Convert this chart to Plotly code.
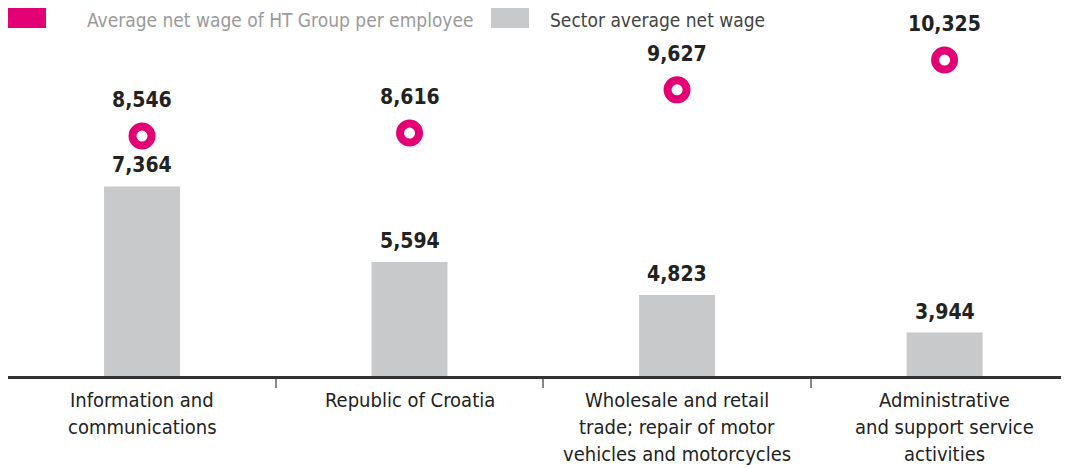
import plotly.graph_objects as go

categories = [
    "Information and<br>communications",
    "Republic of Croatia",
    "Wholesale and retail<br>trade; repair of motor<br>vehicles and motorcycles",
    "Administrative<br>and support service<br>activities",
]
sector_wage = [7364, 5594, 4823, 3944]
ht_wage = [8546, 8616, 9627, 10325]
legend_labels = ["Average net wage of HT Group per employee", "Sector average net wage"]

PINK = "#E20074"
GREY = "#C8C9CB"
FONT = "Liberation Sans Narrow, DejaVu Sans Condensed, Arial Narrow, sans-serif"
W, PLOT_H = 1069, 368

xpos = list(range(len(categories)))

fig = go.Figure()

fig.add_trace(go.Bar(
    x=xpos, y=sector_wage,
    marker=dict(color=GREY, line=dict(width=0)),
    width=0.284, name=legend_labels[1], showlegend=False,
))

fig.add_trace(go.Scatter(
    x=xpos, y=ht_wage, mode="markers",
    marker=dict(symbol="circle", size=19, color="white", line=dict(color=PINK, width=8)),
    name=legend_labels[0], showlegend=False,
))

# value labels
for i, v in zip(xpos, sector_wage):
    fig.add_annotation(x=i, y=v, text=f"<b>{v:,}</b>", showarrow=False,
                       yshift=21, font=dict(size=21, color="#222", family=FONT))
for i, v in zip(xpos, ht_wage):
    fig.add_annotation(x=i, y=v, text=f"<b>{v:,}</b>", showarrow=False,
                       yshift=36, font=dict(size=21, color="#222", family=FONT))

# category labels under the axis, one annotation per line
for i, c in zip(xpos, categories):
    for k, line in enumerate(c.split("<br>")):
        fig.add_annotation(x=i, xref="x", yref="paper", y=0, yanchor="middle",
                           yshift=-24 - 27 * k, text=line, showarrow=False,
                           font=dict(size=20, color="#222", family=FONT))

# legend along the top edge
fig.add_shape(type="rect", xref="paper", yref="paper", x0=0 / W, x1=38 / W,
              y0=1 - 20 / PLOT_H, y1=1.05, fillcolor=PINK, line=dict(width=0))
fig.add_shape(type="rect", xref="paper", yref="paper", x0=483 / W, x1=521 / W,
              y0=1 - 20 / PLOT_H, y1=1.05, fillcolor=GREY, line=dict(width=0))
fig.add_annotation(xref="paper", yref="paper", x=77 / W, y=1 - 12 / PLOT_H, xanchor="left",
                   yanchor="middle", text=legend_labels[0], showarrow=False,
                   font=dict(size=19, color="#9a9a9a", family=FONT))
fig.add_annotation(xref="paper", yref="paper", x=540 / W, y=1 - 12 / PLOT_H, xanchor="left",
                   yanchor="middle", text=legend_labels[1], showarrow=False,
                   font=dict(size=19, color="#444", family=FONT))

fig.update_layout(
    width=W, height=468,
    margin=dict(l=0, r=0, t=0, b=100),
    plot_bgcolor="white", paper_bgcolor="white",
    xaxis=dict(
        range=[-0.501, 3.495],
        tickvals=[0.5, 1.5, 2.5], ticktext=["", "", ""],
        ticks="outside", ticklen=9, tickwidth=2, tickcolor="#888",
        showline=True, linecolor="#333", linewidth=3, showgrid=False, zeroline=False,
    ),
    yaxis=dict(range=[2926, 11544], visible=False, showgrid=False, zeroline=False),
)

fig.write_html("out.html")
